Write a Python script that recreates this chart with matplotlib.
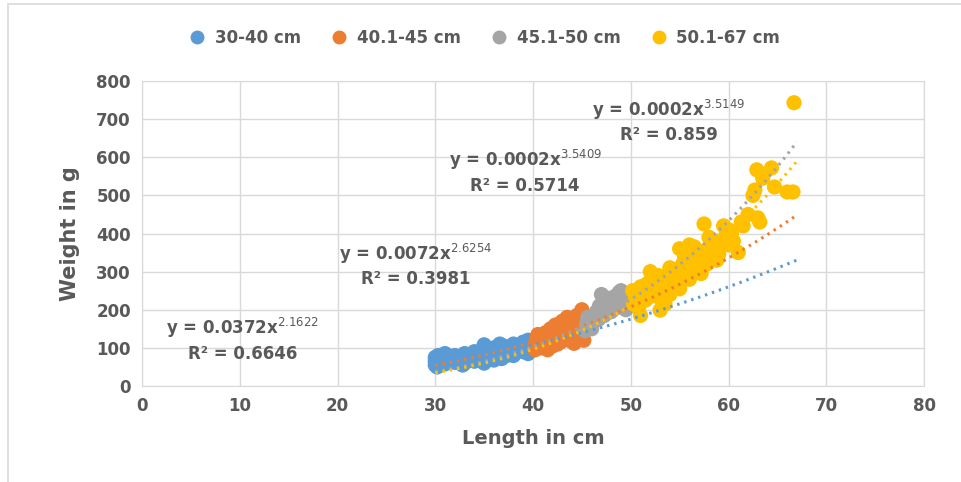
# length-weight scatter with power trendlines
import numpy as np
import matplotlib.pyplot as plt
from matplotlib.patches import Rectangle
from matplotlib.lines import Line2D

groups = ['30-40 cm', '40.1-45 cm', '45.1-50 cm', '50.1-67 cm']
colors = ['#5b9bd5', '#ed7d31', '#a5a5a5', '#ffc000']

len_a = [30, 30, 30, 30.3, 30.5, 31, 31, 31.5, 32, 32, 32.5, 33, 33, 33.5, 34, 34, 34.5,
         35, 35, 35, 35.5, 36, 36, 36.5, 37, 37, 37.5, 38, 38, 38.5, 39, 39, 39.5, 39.5,
         38, 36, 34, 33, 31, 30.2, 32.8, 35.2, 36.8, 38.8, 30.7, 31.8, 32.3, 33.8,
         34.8, 35.8, 36.3, 37.3, 37.8, 38.3, 39.2, 30.1, 31.2, 34.3, 36.6, 39.7]
wt_a = [55, 65, 75, 80, 60, 70, 58, 75, 62, 80, 68, 85, 60, 72, 65, 80, 75,
        108, 70, 60, 90, 100, 78, 85, 95, 105, 88, 110, 80, 100, 115, 90, 120, 85,
        95, 68, 90, 75, 85, 50, 55, 80, 72, 105, 72, 66, 74, 70, 85, 82, 92, 80,
        98, 90, 105, 68, 80, 70, 110, 105]

len_b = [40.2, 40.2, 40.5, 40.8, 41, 41, 41.3, 41.5, 41.8, 42, 42, 42.3, 42.5, 42.8, 43,
         43, 43.3, 43.5, 43.5, 43.8, 44, 44, 44.3, 44.5, 44.5, 44.8, 45, 45, 45.2, 45.3,
         41.5, 40.5, 42.5, 44.2, 40.4, 41.2, 42.2, 43.2, 44.7, 40.9, 42.7, 43.7]
wt_b = [95, 110, 120, 100, 130, 105, 140, 115, 150, 125, 105, 160, 135, 115, 170,
        145, 125, 180, 155, 135, 165, 120, 145, 185, 130, 160, 200, 140, 120, 175,
        95, 135, 110, 112, 125, 120, 140, 155, 150, 115, 150, 120]

len_c = [45.3, 45.5, 45.8, 46, 46.2, 46.5, 46.7, 47, 47, 47.3, 47.5, 47.8, 48, 48.2,
         48.5, 48.8, 49, 49, 49.3, 49.5, 46, 45.6, 46.8, 48.4, 49.7]
wt_c = [145, 165, 155, 180, 170, 195, 175, 240, 205, 185, 215, 230, 195, 220,
        205, 245, 250, 215, 230, 200, 150, 180, 210, 235, 215]

len_d = [50.2, 50.3, 50.5, 50.8, 51, 51, 51.3, 51.5, 51.8, 52, 52, 52.3, 52.5, 52.8,
         53, 53, 53.3, 53.5, 53.8, 54, 54, 54.3, 54.5, 54.8, 55, 55, 55.3, 55.5, 55.8,
         56, 56, 56.3, 56.5, 56.8, 57, 57, 57.3, 57.5, 57.8, 58, 58, 58.3, 58.5, 59,
         59, 59.5, 60, 60, 60.5, 61, 61.3, 61.5, 62, 62.7, 62.9, 63, 63.2, 64.4, 64.7,
         66, 66.6, 66.7, 53.5, 55.5, 57.2, 59.8, 50.6, 51.5, 52.2, 53.2, 54.2, 55.2,
         56.2, 57.6, 58.8, 60.3, 62.5, 63.5]
wt_d = [250, 215, 230, 205, 185, 260, 240, 225, 270, 300, 235, 255, 245, 290,
        199, 230, 265, 250, 280, 310, 240, 290, 265, 300, 360, 255, 320, 340, 300,
        370, 280, 330, 365, 310, 330, 300, 350, 425, 320, 390, 340, 360, 370, 380,
        345, 420, 410, 370, 380, 350, 430, 420, 450, 514, 567, 441, 430, 572, 522,
        509, 509, 743, 215, 280, 295, 400, 245, 265, 280, 285, 295, 310, 320, 355,
        330, 400, 500, 545]

xs = [len_a, len_b, len_c, len_d]
ys = [wt_a, wt_b, wt_c, wt_d]

# power trendlines y = a * x^b
trend_a = [0.0372, 0.0072, 0.000219, 0.000225]
trend_b = [2.1622, 2.6254, 3.5409, 3.5149]
trend_x0, trend_x1 = 30, 67

eq_text = ['y = 0.0372x$^{2.1622}$\nR² = 0.6646',
           'y = 0.0072x$^{2.6254}$\nR² = 0.3981',
           'y = 0.0002x$^{3.5409}$\nR² = 0.5714',
           'y = 0.0002x$^{3.5149}$\nR² = 0.859']
eq_pos = [(10.3, 122), (28.0, 318), (39.2, 563), (53.9, 695)]

grey = '#595959'
fig = plt.figure(figsize=(9.61, 4.82), dpi=100)
ax = fig.add_axes([142 / 961, 1 - 386 / 482, 782 / 961, 305 / 482])

for i in range(4):
    ax.scatter(xs[i], ys[i], s=120, color=colors[i], edgecolors='none', zorder=3)

xt = np.linspace(trend_x0, trend_x1, 100)
for i in range(4):
    ax.plot(xt, trend_a[i] * xt ** trend_b[i], color=colors[i], lw=2.2,
            linestyle=(0, (0.8, 1.6)), zorder=4)

for i in range(4):
    ax.text(eq_pos[i][0], eq_pos[i][1], eq_text[i], ha='center', va='center',
            fontsize=12, fontweight='bold', color=grey, linespacing=1.3, zorder=5)

ax.set_xlim(0, 80)
ax.set_ylim(0, 800)
ax.set_xticks(range(0, 81, 10))
ax.set_yticks(range(0, 801, 100))
ax.grid(True, color='#d9d9d9', lw=1)
ax.set_axisbelow(True)
for s in ax.spines.values():
    s.set_color('#d9d9d9')
ax.tick_params(length=0, labelsize=12, labelcolor=grey, pad=8)
for lab in ax.get_xticklabels() + ax.get_yticklabels():
    lab.set_fontweight('bold')
ax.set_xlabel('Length in cm', fontsize=14, fontweight='bold', color=grey, labelpad=10)
ax.set_ylabel('Weight in g', fontsize=15, fontweight='bold', color=grey, labelpad=12)

handles = [Line2D([], [], marker='o', ls='none', color=c, markersize=9) for c in colors]
leg = fig.legend(handles, groups, loc='center', bbox_to_anchor=(0.5, 1 - 38 / 482),
                 ncol=4, frameon=False, handletextpad=0.05, columnspacing=1.3,
                 prop={'weight': 'bold', 'size': 12})
for t in leg.get_texts():
    t.set_color(grey)

fig.patches.append(Rectangle((8 / 961, -0.01), 1.0, 1 - 4 / 482 + 0.01,
                             transform=fig.transFigure, fill=False,
                             edgecolor='#d9d9d9', lw=1.2))

fig.savefig('out.png', dpi=100)
